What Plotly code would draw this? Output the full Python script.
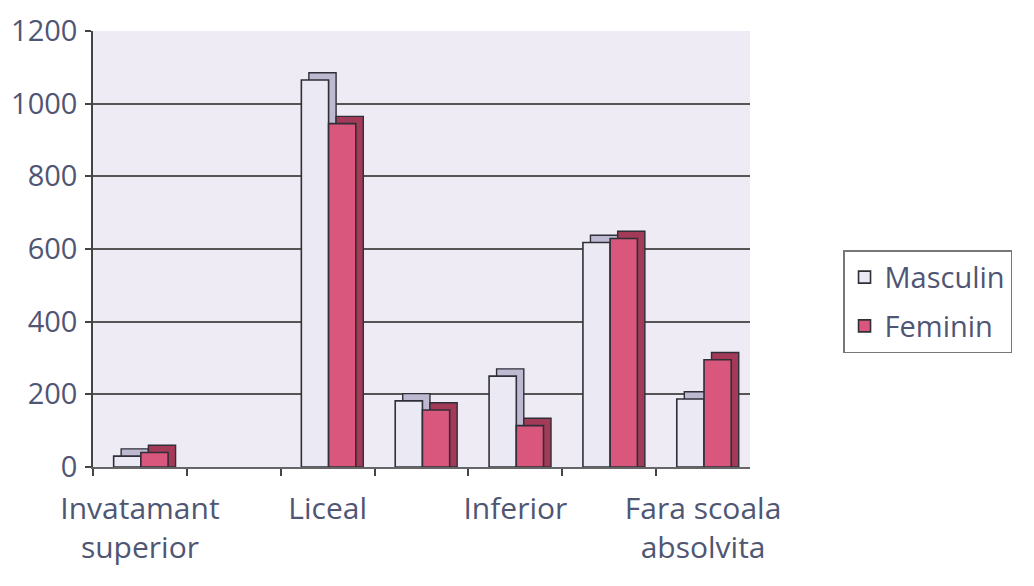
import plotly.graph_objects as go

# Data
tick_labels = ["Invatamant<br>superior", "", "Liceal", "", "Inferior", "", "Fara scoala<br>absolvita"]
masculin = [30, 0, 1065, 182, 250, 618, 187]
feminin = [40, 0, 945, 157, 114, 629, 295]
series_names = ["Masculin", "Feminin"]

x = list(range(len(tick_labels)))

FONT = "Open Sans"
TXT = "#4f5674"
EDGE = "#2f2f38"

m_front, m_side = "#ebe9f4", "#bcb9d0"
f_front, f_side = "#d9577d", "#a33a58"

depth_x = 0.08
depth_y = 20

fig = go.Figure()

# depth (3D side/top) faces, drawn behind the front faces
for vals, off, col, grp in [(masculin, -0.28, m_side, "m"), (feminin, 0.01, f_side, "f")]:
    fig.add_trace(go.Bar(
        x=x, y=[v + depth_y if v > 0 else 0 for v in vals],
        offset=off + depth_x, width=0.29,
        marker=dict(color=col, line=dict(color=EDGE, width=[1.4 if v > 0 else 0 for v in vals])),
        showlegend=False, hoverinfo="skip", legendgroup=grp,
    ))

# front faces
for vals, off, col, name, grp in [(masculin, -0.28, m_front, series_names[0], "m"),
                                  (feminin, 0.01, f_front, series_names[1], "f")]:
    fig.add_trace(go.Bar(
        x=x, y=vals, name=name, offset=off, width=0.29,
        marker=dict(color=col, line=dict(color=EDGE, width=[1.6 if v > 0 else 0 for v in vals])),
        legendgroup=grp,
    ))

fig.update_layout(
    width=1034, height=586,
    barmode="overlay",
    margin=dict(l=85, r=292, t=23, b=127, autoexpand=False),
    paper_bgcolor="white",
    plot_bgcolor="#eeebf4",
    font=dict(family=FONT, size=30, color=TXT),
    legend=dict(
        x=1.1416, y=0.497, xanchor="left", yanchor="top",
        bordercolor="#777777", borderwidth=1.5, bgcolor="white",
        font=dict(family=FONT, size=29, color=TXT),
        traceorder="grouped", tracegroupgap=8,
        itemwidth=30,
    ),
    xaxis=dict(
        range=[-0.5, len(x) - 0.5], automargin=False,
        tickmode="array", tickvals=x, ticktext=tick_labels,
        ticks="", showgrid=False, zeroline=False,
        showline=True, linecolor="#666666", linewidth=1.5,
        ticklabelstandoff=14, ticklabeloverflow="allow",
        minor=dict(tickmode="array", tickvals=[i + 0.5 for i in x[:-1]] + [-0.5],
                   ticks="outside", ticklen=7, tickcolor="#444444", tickwidth=1.5),
        tickfont=dict(family=FONT, size=30, color=TXT),
    ),
    yaxis=dict(
        range=[0, 1200], tickvals=[0, 200, 400, 600, 800, 1000, 1200], automargin=False,
        ticks="outside", ticklen=6, tickcolor="#444444", tickwidth=1.5,
        showline=True, linecolor="#444444", linewidth=1.5,
        showgrid=True, gridcolor="#555555", gridwidth=1.5,
        zeroline=False, ticklabelstandoff=2, ticklabeloverflow="allow",
        tickfont=dict(family=FONT, size=29, color=TXT),
    ),
)

fig.write_html("out.html")
